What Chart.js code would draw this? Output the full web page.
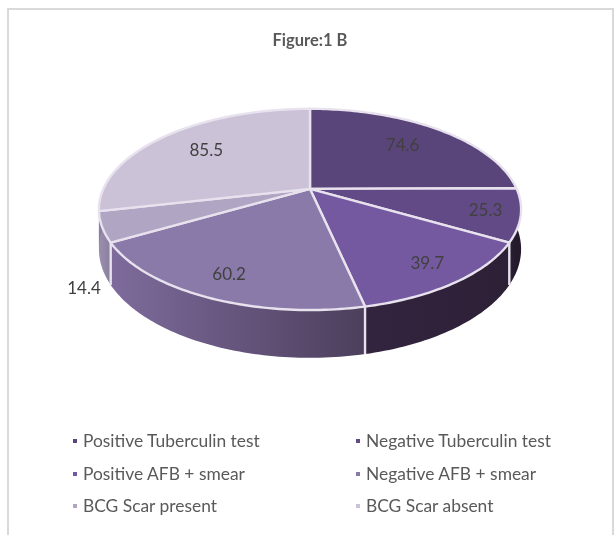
<!DOCTYPE html>
<html>
<head>
<meta charset="utf-8">
<title>Figure:1 B</title>
<script src="https://cdn.jsdelivr.net/npm/chart.js@4/dist/chart.umd.min.js"></script>
<style>
    html, body { margin: 0; padding: 0; background: #fff; overflow: hidden; }
    #wrap { position: relative; width: 615px; height: 535px; filter: blur(0.4px); }
    #frame { position: absolute; left: 7px; top: 8px; width: 603px; height: 540px; border: 2px solid #d9d9d9; }
    #chart { position: absolute; left: 0; top: 0; }
    .legend-item { position: absolute; font: 17.4px Lato, sans-serif; color: #595959; white-space: nowrap; line-height: 20px; }
    .legend-item i { position: absolute; left: -10px; top: 8px; width: 4px; height: 4px; }
</style>
</head>
<body>
<div id="wrap">
    <div id="frame"></div>
    <canvas id="chart" width="615" height="535"></canvas>
    <div id="legend"></div>
</div>
<script>
// Dados do gráfico
const categories = ['Positive Tuberculin test', 'Negative Tuberculin test', 'Positive AFB + smear', 'Negative AFB + smear', 'BCG Scar present', 'BCG Scar absent'];
const values = [74.6, 25.3, 39.7, 60.2, 14.4, 85.5];
const topColors = ['#59457a', '#624a86', '#7559a0', '#8a7aaa', '#b0a6c4', '#ccc2d8'];
const sideColorsLeft = ['#3a2d50', '#2a1f34', '#33243f', '#7e6b9c', '#9a90ac', '#8a7ea0'];
const sideColorsRight = ['#2a1f34', '#241a2c', '#2c2036', '#4c3f5c', '#8a7ea0', '#8a7ea0'];

// Perspectiva do disco
const depthWarp = 0.204;
const widthFactor = 2.58;
const heightFactor = 1.204;
const sideDepth = 0.475;
const separator = '#e8e2ee';

// Posição dos rótulos: fração do raio e deslocamento vertical
const labelRadius = [0.7, 0.84, 0.83, 0.82, 1.08, 0.7];
const labelDrop = [0, 0, 0, 0, 58, 0];

function project(arc, angle, fraction, drop) {
    const u = Math.cos(angle) * fraction;
    const v = -Math.sin(angle) * fraction;
    const den = 1 + depthWarp * v;
    const r = arc.outerRadius;
    return {
        x: arc.x + r * widthFactor * u / den,
        y: arc.y - r * heightFactor * v / den + (drop ? r * sideDepth / den : 0)
    };
}

function traceRim(ctx, arc, from, to, drop, first) {
    const steps = Math.max(4, Math.ceil(Math.abs(to - from) / 0.02));
    for (let i = 0; i <= steps; i++) {
        const p = project(arc, from + (to - from) * i / steps, 1, drop);
        if (i === 0 && first) ctx.moveTo(p.x, p.y);
        else ctx.lineTo(p.x, p.y);
    }
}

const pie3d = {
    id: 'pie3d',
    // O arco do Chart.js vira um disco em perspectiva
    beforeDatasetDraw(chart) {
        const ctx = chart.ctx;
        const arcs = chart.getDatasetMeta(0).data;
        ctx.save();
        ctx.lineJoin = 'round';

        // Lados
        arcs.forEach((arc, i) => {
            const a = project(arc, arc.startAngle, 1, false);
            const b = project(arc, arc.endAngle, 1, false);
            const grad = ctx.createLinearGradient(Math.min(a.x, b.x), 0, Math.max(a.x, b.x), 0);
            grad.addColorStop(0, sideColorsLeft[i]);
            grad.addColorStop(1, sideColorsRight[i]);
            ctx.beginPath();
            traceRim(ctx, arc, arc.startAngle, arc.endAngle, false, true);
            traceRim(ctx, arc, arc.endAngle, arc.startAngle, true, false);
            ctx.closePath();
            ctx.fillStyle = grad;
            ctx.fill();
        });

        // Linhas verticais entre as fatias da frente
        ctx.strokeStyle = separator;
        ctx.lineWidth = 2.4;
        arcs.forEach(arc => {
            if (Math.sin(arc.startAngle) <= 0.3) return;
            const top = project(arc, arc.startAngle, 1, false);
            const bottom = project(arc, arc.startAngle, 1, true);
            ctx.beginPath();
            ctx.moveTo(top.x, top.y);
            ctx.lineTo(bottom.x, bottom.y);
            ctx.stroke();
        });

        // Topo
        arcs.forEach((arc, i) => {
            ctx.beginPath();
            ctx.moveTo(arc.x, arc.y);
            traceRim(ctx, arc, arc.startAngle, arc.endAngle, false, false);
            ctx.closePath();
            ctx.fillStyle = topColors[i];
            ctx.fill();
            ctx.stroke();
        });

        // Rótulos
        ctx.font = '17px Lato, sans-serif';
        ctx.fillStyle = '#404040';
        ctx.textAlign = 'center';
        ctx.textBaseline = 'middle';
        arcs.forEach((arc, i) => {
            const mid = (arc.startAngle + arc.endAngle) / 2;
            const p = project(arc, mid, labelRadius[i], false);
            ctx.fillText(values[i].toFixed(1), p.x, p.y + labelDrop[i]);
        });

        ctx.restore();
        return false;
    }
};

function buildLegend() {
    const legend = document.getElementById('legend');
    legend.innerHTML = categories.map((name, i) => {
        const left = i % 2 === 0 ? 83 : 366;
        const top = 431 + Math.floor(i / 2) * 32.5;
        return `<div class="legend-item" style="left:${left}px;top:${top}px"><i style="background:${topColors[i]}"></i>${name}</div>`;
    }).join('');
}

new Chart(document.getElementById('chart'), {
    type: 'pie',
    data: {
        labels: categories,
        datasets: [{
            data: values,
            backgroundColor: topColors,
            borderWidth: 0
        }]
    },
    options: {
        responsive: false,
        animation: false,
        layout: { padding: { left: 5, bottom: 266 } },
        plugins: {
            legend: { display: false },
            tooltip: { enabled: false },
            title: {
                display: true,
                text: 'Figure:1 B',
                color: '#595959',
                font: { family: 'Lato, sans-serif', size: 16.5, weight: 'bold' },
                padding: { top: 31, bottom: 58 }
            }
        }
    },
    plugins: [pie3d]
});

buildLegend();
</script>
</body>
</html>
